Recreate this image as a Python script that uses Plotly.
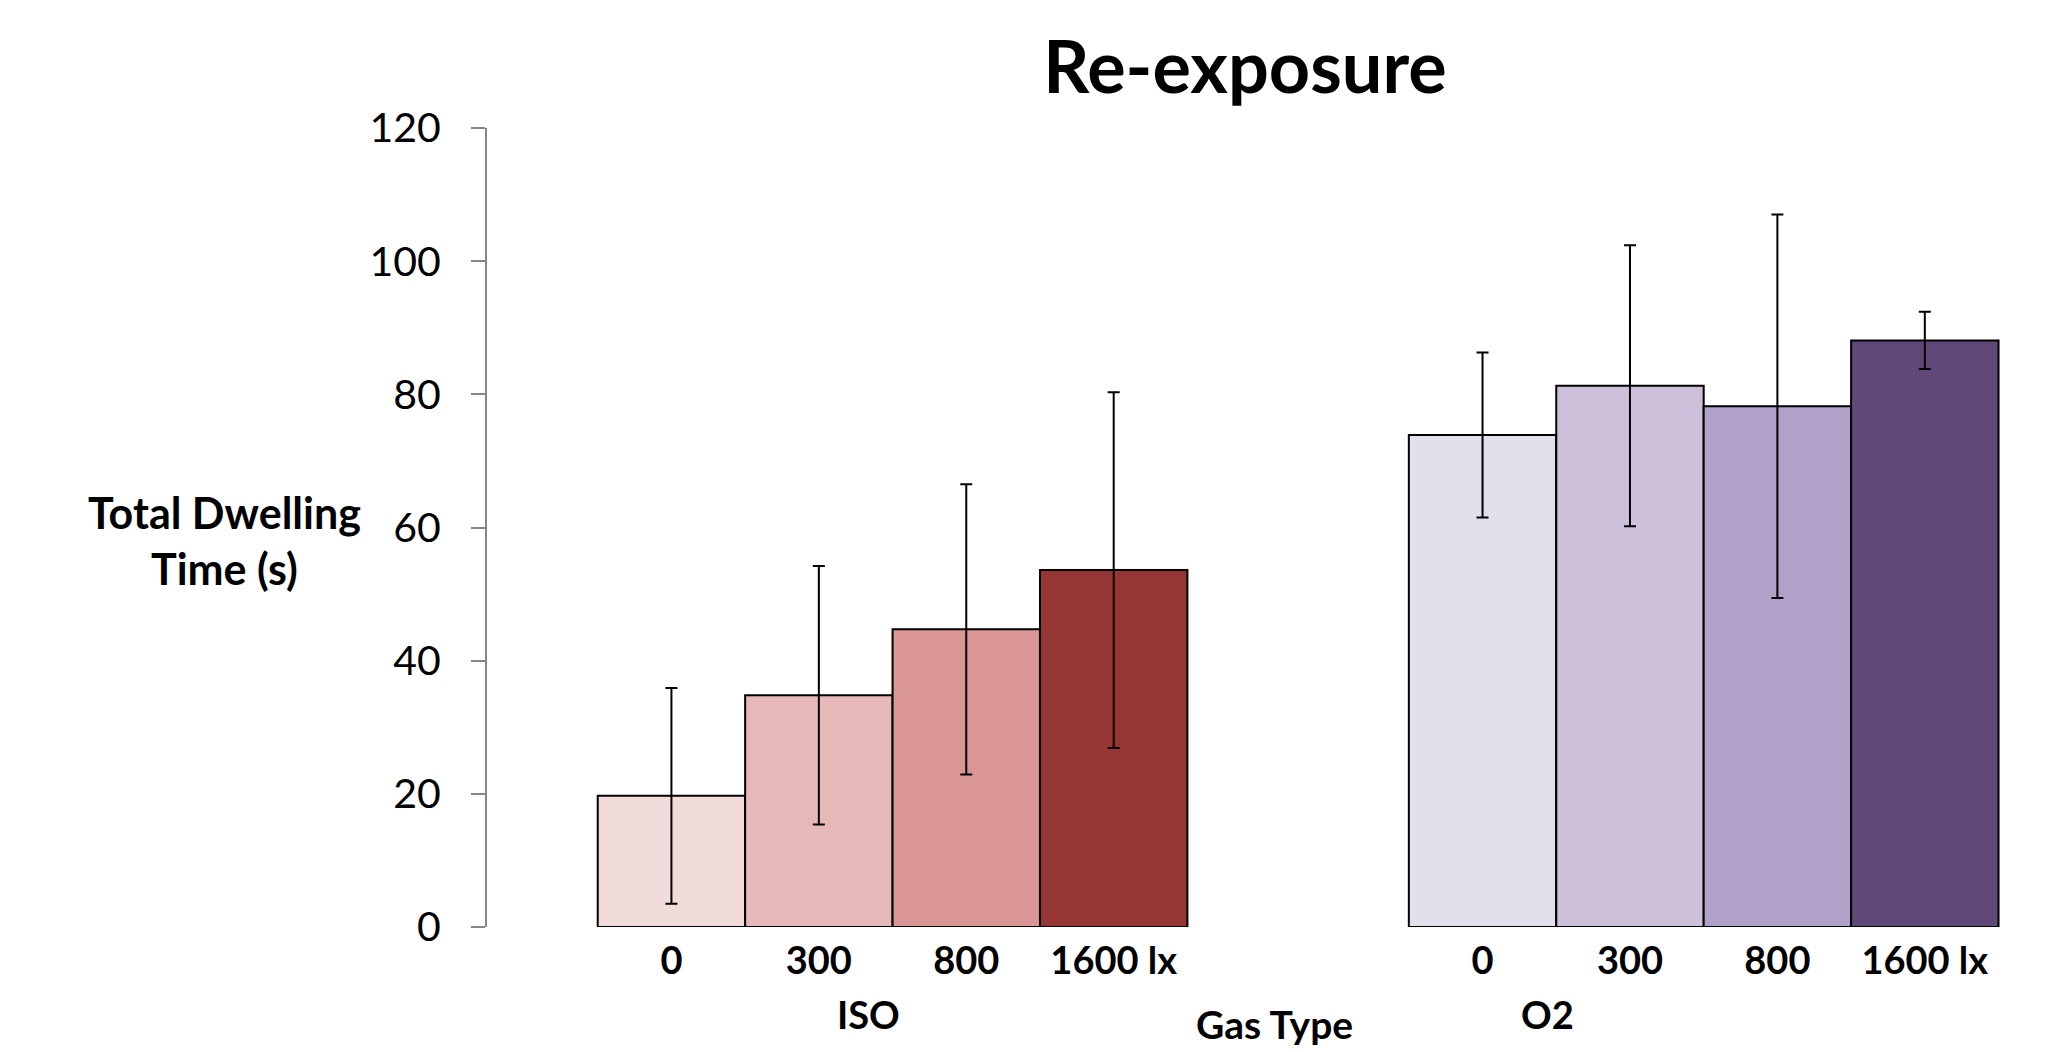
import plotly.graph_objects as go

# ---- data ----
groups = ["ISO", "O2"]
light_levels = ["0", "300", "800", "1600 lx"]
iso_means = [19.7, 34.8, 44.7, 53.6]
iso_err = [16.2, 19.4, 21.8, 26.7]
o2_means = [73.9, 81.3, 78.2, 88.1]
o2_err = [12.4, 21.1, 28.8, 4.3]
iso_colors = ["#F2DCDB", "#E6B8B7", "#DA9694", "#963634"]
o2_colors = ["#E4DFEC", "#CCC0DA", "#B1A0C7", "#60497A"]
y_ticks = [0, 20, 40, 60, 80, 100, 120]

FONT = "Lato, 'Open Sans', 'Liberation Sans', sans-serif"
bar_w = 0.727 / len(light_levels)

series = [(iso_means, iso_err, iso_colors), (o2_means, o2_err, o2_colors)]

W, H = 2055, 1044
L, T = 479, 120
PH = 798.7
PW = W - L

fig = go.Figure()
tickvals, ticktext = [], []
for g, (means, errs, cols) in enumerate(series):
    xs = [g + (i - (len(means) - 1) / 2) * bar_w for i in range(len(means))]
    tickvals += xs
    ticktext += light_levels
    fig.add_trace(go.Bar(
        x=xs, y=means, width=bar_w,
        marker=dict(color=cols, line=dict(color="black", width=2)),
        error_y=dict(type="data", array=errs, visible=True,
                     color="black", thickness=2, width=6),
        showlegend=False,
    ))

fig.update_layout(
    width=W, height=H,
    margin=dict(l=L, r=0, t=T, b=H - T - PH),
    paper_bgcolor="white", plot_bgcolor="white",
    font=dict(family=FONT, color="black"),
    barmode="overlay",
    title=dict(text="<b>Re-exposure</b>", x=1237 / W, xanchor="center",
               y=1 - 60 / H, yanchor="middle", yref="container",
               font=dict(size=72, family=FONT, color="black")),
    xaxis=dict(range=[-0.5, 1.443], tickmode="array",
               tickvals=tickvals,
               ticktext=["<b>%s</b>" % t for t in ticktext],
               tickfont=dict(size=38, family=FONT, color="black"),
               showline=False, showgrid=False, zeroline=False,
               ticks="", ticklabelstandoff=8),
    yaxis=dict(range=[0, 120], tickmode="array", tickvals=y_ticks,
               tickfont=dict(size=41, family=FONT, color="black"),
               showline=True, linecolor="#868686", linewidth=2,
               ticks="outside", ticklen=14, tickcolor="#868686", tickwidth=2,
               showgrid=False, zeroline=False, ticklabelstandoff=22),
)

# group labels and axis titles (positions in page pixels converted to plot-domain fractions)
def px_x(px):
    return (px - 8 - L) / PW

def px_y(py):
    return (T + PH - (py - 8)) / PH

for label, xp in zip(groups, [868, 1547]):
    fig.add_annotation(text="<b>%s</b>" % label, xref="paper", yref="paper",
                       x=px_x(xp), y=px_y(1014), xanchor="center", yanchor="middle",
                       showarrow=False, font=dict(size=38, family=FONT, color="black"))
fig.add_annotation(text="<b>Gas Type</b>", xref="paper", yref="paper",
                   x=px_x(1274), y=px_y(1024), xanchor="center", yanchor="middle",
                   showarrow=False, font=dict(size=39, family=FONT, color="black"))
fig.add_annotation(text="<b>Total Dwelling<br>Time (s)</b>", xref="paper", yref="paper",
                   x=px_x(224), y=px_y(540),
                   xanchor="center", yanchor="middle", align="center",
                   showarrow=False, font=dict(size=43, family=FONT, color="black"))

fig.write_html("out.html")
